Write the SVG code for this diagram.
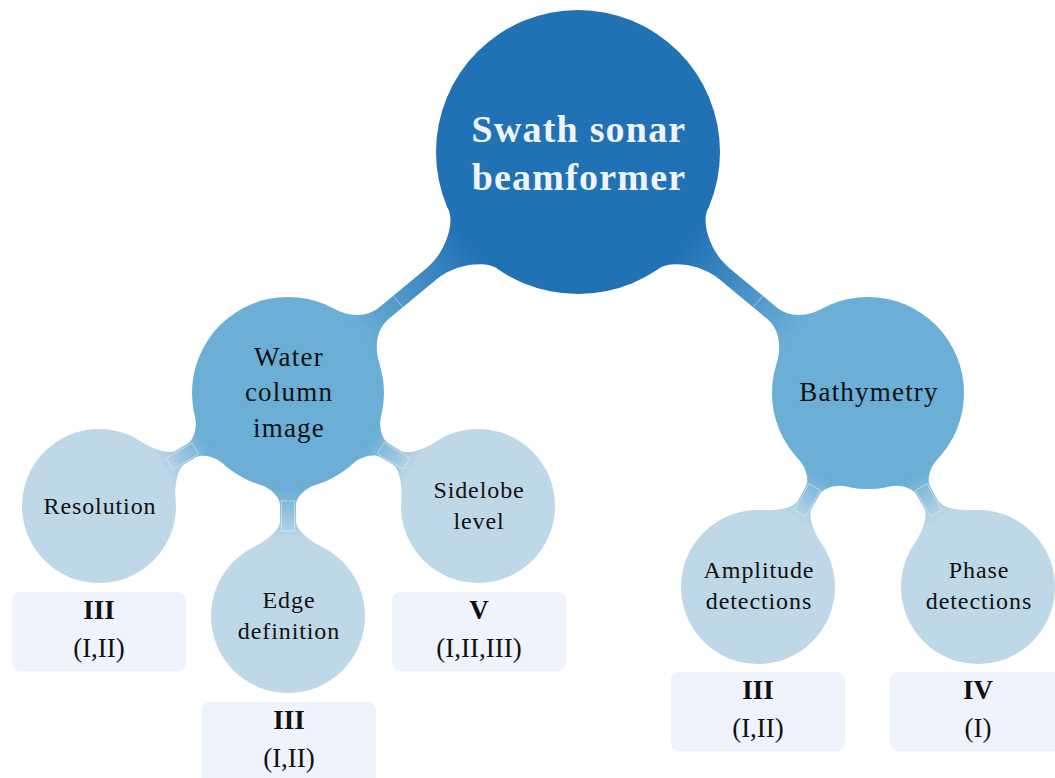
<svg xmlns="http://www.w3.org/2000/svg" width="1055" height="778" viewBox="0 0 1055 778">
<style>
  .lvl0 { fill: #2171b5; }
  .lvl1 { fill: #6baed6; }
  .lvl2 { fill: #bfd8e7; }
  .box { fill: #eef3fd; }
  text { font-family: "Liberation Serif", "Times New Roman", serif; text-anchor: middle; fill: #111111; }
  .t0 { font-size: 38px; font-weight: bold; fill: #eef3fd; letter-spacing: 1.2px; }
  .t1 { font-size: 27px; letter-spacing: 1.2px; }
  .t2 { font-size: 24px; letter-spacing: 0.9px; }
  .b1 { font-size: 27px; font-weight: bold; }
  .b2 { font-size: 27px; }
  .bar0 { fill: url(#g0); }
  .bar1 { fill: url(#g1); }
  .art { fill: none; stroke: #ffffff; stroke-width: 0.8; stroke-opacity: 0.5; }
</style>
<defs>
  <linearGradient id="g0" gradientUnits="userSpaceOnUse" x1="142" y1="0" x2="281" y2="0">
    <stop offset="0" stop-color="#2171b5"/>
    <stop offset="1" stop-color="#6baed6"/>
  </linearGradient>
  <linearGradient id="g1" gradientUnits="userSpaceOnUse" x1="96" y1="0" x2="146" y2="0">
    <stop offset="0" stop-color="#6baed6"/>
    <stop offset="1" stop-color="#bfd8e7"/>
  </linearGradient>
</defs>

<g id="connectors">
  <g transform="translate(578 152) rotate(140.27)">
    <path class="bar0" d="M137.2 36.8 C140.3 25.2 165 7.5 190 7.5 L252 7.5 C272 7.5 283.6 24.9 288.1 36 L288.1 -36 C283.6 -24.9 272 -7.5 252 -7.5 L190 -7.5 C165 -7.5 140.3 -25.2 137.2 -36.8 Z"/>
    <line class="art" x1="234" y1="-7.5" x2="234" y2="7.5"/>
  </g>
  <g transform="translate(578 152) rotate(39.73)">
    <path class="bar0" d="M137.2 36.8 C140.3 25.2 165 7.5 190 7.5 L252 7.5 C272 7.5 283.6 24.9 288.1 36 L288.1 -36 C283.6 -24.9 272 -7.5 252 -7.5 L190 -7.5 C165 -7.5 140.3 -25.2 137.2 -36.8 Z"/>
    <line class="art" x1="234" y1="-7.5" x2="234" y2="7.5"/>
  </g>
  <g transform="translate(288 393) rotate(149.13)">
    <path class="bar1" d="M92.3 26.5 C94.5 18.8 104 8 112 8 L125.2 8 C135.2 8 147 25.3 150.4 32.5 L150.4 -32.5 C147 -25.3 135.2 -8 125.2 -8 L112 -8 C104 -8 94.5 -18.8 92.3 -26.5 Z"/>
    <rect class="art" x="108" y="-6.5" width="30" height="13"/>
  </g>
  <g transform="translate(288 393) rotate(90)">
    <path class="bar1" d="M92.3 26.5 C94.5 18.8 104 8 112 8 L128 8 C138 8 149.8 25.3 153.2 32.5 L153.2 -32.5 C149.8 -25.3 138 -8 128 -8 L112 -8 C104 -8 94.5 -18.8 92.3 -26.5 Z"/>
    <rect class="art" x="108" y="-6.5" width="30" height="13"/>
  </g>
  <g transform="translate(288 393) rotate(30.74)">
    <path class="bar1" d="M92.3 26.5 C94.5 18.8 104 8 112 8 L126.1 8 C136.1 8 147.9 25.3 151.3 32.5 L151.3 -32.5 C147.9 -25.3 136.1 -8 126.1 -8 L112 -8 C104 -8 94.5 -18.8 92.3 -26.5 Z"/>
    <rect class="art" x="108" y="-6.5" width="30" height="13"/>
  </g>
  <g transform="translate(868 393) rotate(119.55)">
    <path class="bar1" d="M92.3 26.5 C94.5 18.8 104 8 112 8 L128 8 C138 8 149.8 25.3 153.2 32.5 L153.2 -32.5 C149.8 -25.3 138 -8 128 -8 L112 -8 C104 -8 94.5 -18.8 92.3 -26.5 Z"/>
    <rect class="art" x="108" y="-6.5" width="30" height="13"/>
  </g>
  <g transform="translate(868 393) rotate(60.45)">
    <path class="bar1" d="M92.3 26.5 C94.5 18.8 104 8 112 8 L128 8 C138 8 149.8 25.3 153.2 32.5 L153.2 -32.5 C149.8 -25.3 138 -8 128 -8 L112 -8 C104 -8 94.5 -18.8 92.3 -26.5 Z"/>
    <rect class="art" x="108" y="-6.5" width="30" height="13"/>
  </g>
</g>

<g id="root">
  <circle class="lvl0" cx="578" cy="152" r="142"/>
  <text class="t0" x="579" y="142">Swath sonar</text>
  <text class="t0" x="579" y="190">beamformer</text>
</g>

<g id="water-column">
  <circle class="lvl1" cx="288" cy="393" r="96"/>
  <text class="t1" x="289" y="366">Water</text>
  <text class="t1" x="289" y="401">column</text>
  <text class="t1" x="289" y="437">image</text>
</g>

<g id="bathymetry">
  <circle class="lvl1" cx="868" cy="393" r="96"/>
  <text class="t1" x="869" y="401">Bathymetry</text>
</g>

<g id="resolution">
  <circle class="lvl2" cx="99" cy="506" r="77"/>
  <text class="t2" x="100" y="514">Resolution</text>
</g>

<g id="edge-definition">
  <circle class="lvl2" cx="288" cy="616" r="77"/>
  <text class="t2" x="289" y="608">Edge</text>
  <text class="t2" x="289" y="639">definition</text>
</g>

<g id="sidelobe-level">
  <circle class="lvl2" cx="478" cy="506" r="77"/>
  <text class="t2" x="479" y="498">Sidelobe</text>
  <text class="t2" x="479" y="529">level</text>
</g>

<g id="amplitude-detections">
  <circle class="lvl2" cx="758" cy="587" r="77"/>
  <text class="t2" x="759" y="578">Amplitude</text>
  <text class="t2" x="759" y="609">detections</text>
</g>

<g id="phase-detections">
  <circle class="lvl2" cx="978" cy="587" r="77"/>
  <text class="t2" x="979" y="578">Phase</text>
  <text class="t2" x="979" y="609">detections</text>
</g>

<g id="box-resolution">
  <rect class="box" x="12" y="592" width="174" height="79" rx="8"/>
  <text class="b1" x="99" y="619">III</text>
  <text class="b2" x="99" y="657">(I,II)</text>
</g>

<g id="box-edge">
  <rect class="box" x="202" y="702" width="174" height="84" rx="8"/>
  <text class="b1" x="289" y="729">III</text>
  <text class="b2" x="289" y="767">(I,II)</text>
</g>

<g id="box-sidelobe">
  <rect class="box" x="392" y="592" width="174" height="79" rx="8"/>
  <text class="b1" x="479" y="619">V</text>
  <text class="b2" x="479" y="657">(I,II,III)</text>
</g>

<g id="box-amplitude">
  <rect class="box" x="671" y="672" width="174" height="79" rx="8"/>
  <text class="b1" x="758" y="699">III</text>
  <text class="b2" x="758" y="737">(I,II)</text>
</g>

<g id="box-phase">
  <rect class="box" x="890" y="672" width="174" height="79" rx="8"/>
  <text class="b1" x="978" y="699">IV</text>
  <text class="b2" x="978" y="737">(I)</text>
</g>
</svg>
